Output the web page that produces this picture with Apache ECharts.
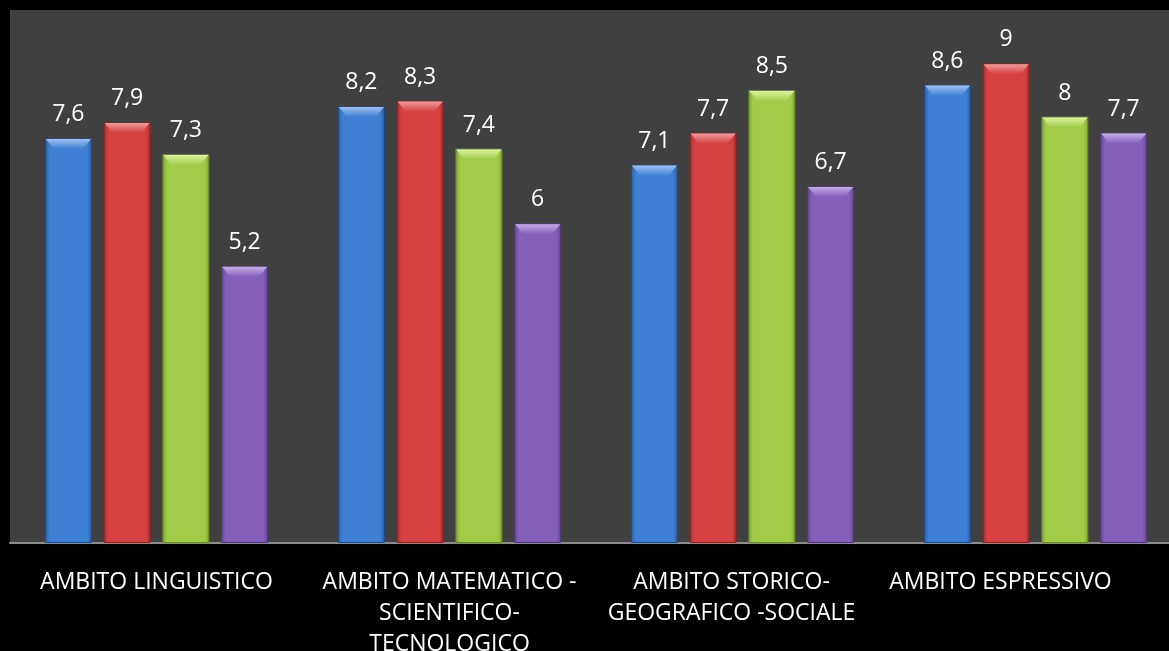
<!DOCTYPE html>
<html><head><meta charset="utf-8">
<script src="https://cdn.jsdelivr.net/npm/echarts@6/dist/echarts.min.js"></script>
<style>html,body{margin:0;padding:0;background:#000;}#c{width:1169px;height:651px;}</style>
</head><body><div id="c"></div>
<script>
const categories = ["AMBITO LINGUISTICO", "AMBITO MATEMATICO -\nSCIENTIFICO-\nTECNOLOGICO", "AMBITO STORICO-\nGEOGRAFICO -SOCIALE", "AMBITO ESPRESSIVO"];
const serieA = [7.6, 8.2, 7.1, 8.6];
const serieB = [7.9, 8.3, 7.7, 9];
const serieC = [7.3, 7.4, 8.5, 8];
const serieD = [5.2, 6, 6.7, 7.7];
const allSeries = [serieA, serieB, serieC, serieD];
const colors = [
  ['#2a5c9e', '#3f80d4', '#2a5c9e', '#1f4b85', '#9cc2f4'],
  ['#a32c2c', '#d64141', '#a32c2c', '#862222', '#f29a9a'],
  ['#7ea432', '#a2cc48', '#7ea432', '#66872a', '#dcf29c'],
  ['#62448e', '#8460bb', '#62448e', '#4f3776', '#c4acea']
];
// label shifts (px to the left) seen in the reference for the last categories
const labelShift = [0, 0, 22, 70];
const BW = 47, GAP = 0.25;
function grad(c){
  return {type:'linear',x:0,y:0,x2:1,y2:0,colorStops:[
    {offset:0,color:c[0]},{offset:0.1,color:c[1]},{offset:0.9,color:c[1]},{offset:1,color:c[2]}]};
}
const chart = echarts.init(document.getElementById('c'));
const mk = (d,i)=>({type:'bar',data:d,barWidth:BW,barGap:(GAP*100)+'%',
  itemStyle:{color:grad(colors[i]),borderColor:colors[i][3],borderWidth:1},
  label:{show:true,position:'top',distance:12,color:'#fff',fontSize:23,fontFamily:'Open Sans',
    formatter:p=>String(p.value).replace('.',',')}});
const capData = [];
allSeries.forEach((s,si)=>s.forEach((v,ci)=>capData.push([ci, v, si])));
const caps = {type:'custom',data:capData,silent:true,z:5,
  renderItem:(params, api)=>{
    const ci = api.value(0), v = api.value(1), si = api.value(2);
    const p = api.coord([ci, v]);
    const step = BW*(1+GAP);
    const cx = p[0] + (si-1.5)*step;
    const x0 = cx - BW/2 + 1, x1 = cx + BW/2 - 1, y0 = p[1] + 1, h = 10, ins = 8;
    return {type:'polygon',shape:{points:[[x0,y0],[x1,y0],[x1-ins,y0+h],[x0+ins,y0+h]]},
      style:{fill:{type:'linear',x:0,y:0,x2:0,y2:1,colorStops:[{offset:0,color:colors[si][4]},{offset:1,color:colors[si][1]}]}}};
  }};
const xData = categories.map((c,i)=>({value:c,textStyle:{padding:[0,labelShift[i],0,0]}}));
chart.setOption({
  backgroundColor:'#000',
  animation:false,
  grid:{left:10,right:-13,top:10,bottom:108,show:true,backgroundColor:'#404040',borderWidth:0,containLabel:false,outerBoundsMode:'none'},
  xAxis:{type:'category',data:xData,
    axisLine:{show:true,lineStyle:{color:'#8c8c8c',width:2}},axisTick:{show:false},
    axisLabel:{color:'#fff',fontSize:23,fontFamily:'Open Sans',margin:24,lineHeight:31,interval:0}},
  yAxis:{type:'value',min:0,max:10,interval:1,show:false,splitLine:{show:false}},
  series:[mk(serieA,0),mk(serieB,1),mk(serieC,2),mk(serieD,3),caps]
});
</script></body></html>
